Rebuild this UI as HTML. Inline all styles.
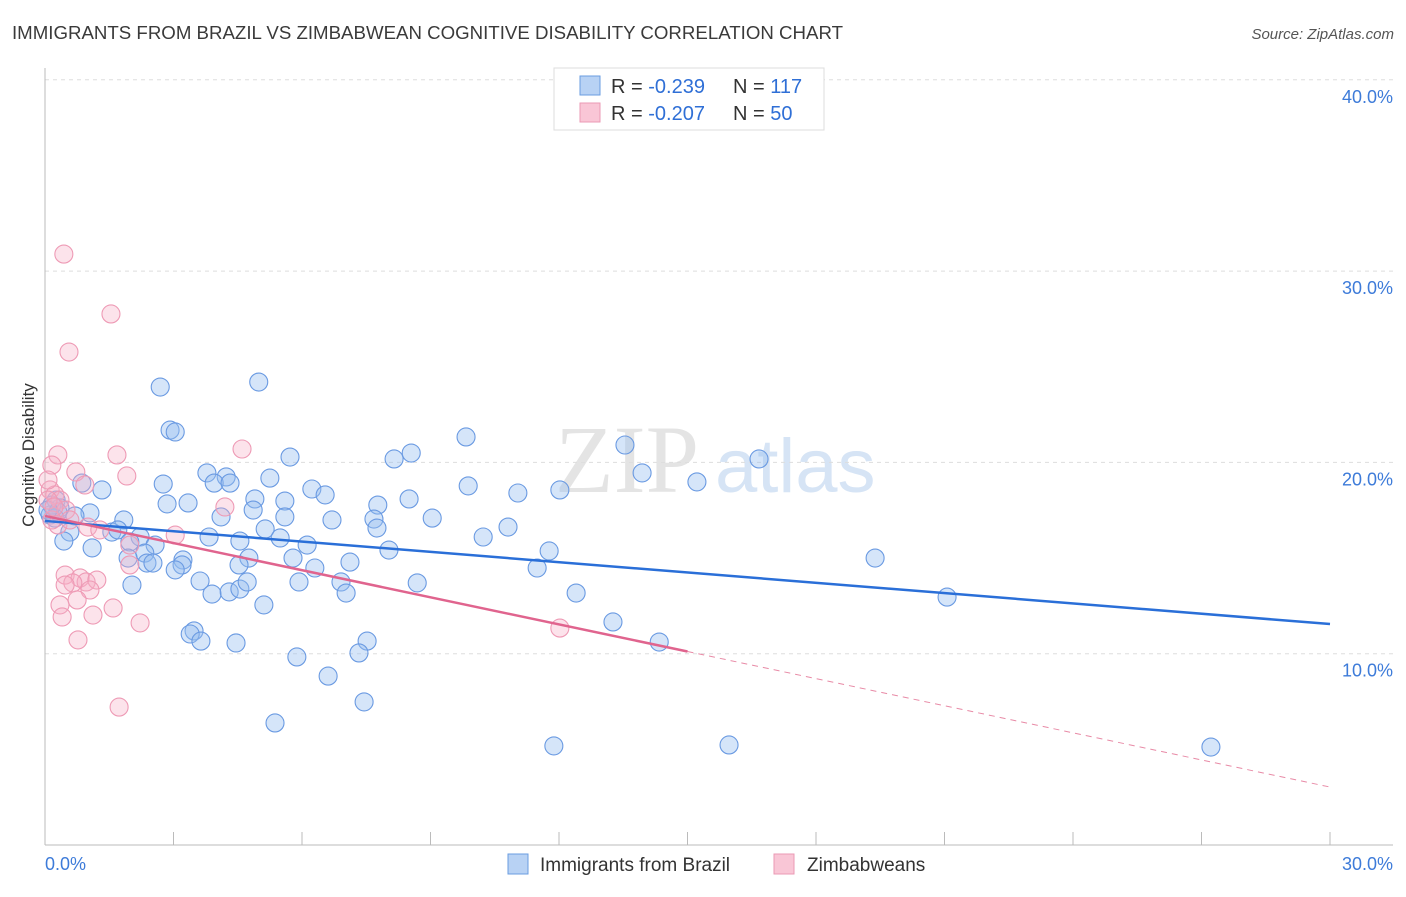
<!DOCTYPE html>
<html><head><meta charset="utf-8"><style>
body{margin:0;background:#fff;font-family:"Liberation Sans",sans-serif}
svg text{font-family:"Liberation Sans",sans-serif}
</style></head><body>
<svg id="chart" width="1406" height="892" xmlns="http://www.w3.org/2000/svg">
<text x="12" y="39" font-size="18" fill="#3a3a3a" textLength="831" lengthAdjust="spacingAndGlyphs">IMMIGRANTS FROM BRAZIL VS ZIMBABWEAN COGNITIVE DISABILITY CORRELATION CHART</text>
<text x="1394" y="39" font-size="15" fill="#555" text-anchor="end" font-style="italic">Source: ZipAtlas.com</text>
<g>
<text x="555" y="492" font-size="96" fill="#e4e4e4" font-family="Liberation Serif" style="font-family:'Liberation Serif',serif">ZIP</text>
<text x="715" y="492" font-size="76" fill="#d6e4f5">atlas</text>
</g>
<g id="grid"></g>
<g id="axes"></g>
<g id="pts"></g>
<g id="trends"></g>
<text transform="translate(34,455) rotate(-90)" font-size="17" fill="#333" text-anchor="middle">Cognitive Disability</text>
<g>
<rect x="554" y="68" width="270" height="62" fill="#fff" stroke="#ddd"/>
<rect x="580" y="76" width="20" height="19" fill="#b8d2f4" stroke="#6a9ce0"/>
<rect x="580" y="103" width="20" height="19" fill="#f9c6d6" stroke="#eb9ab4"/>
<text x="611" y="93" font-size="20" fill="#333">R = <tspan fill="#2f6fd6">-0.239</tspan></text>
<text x="733" y="93" font-size="20" fill="#333">N = <tspan fill="#2f6fd6">117</tspan></text>
<text x="611" y="120" font-size="20" fill="#333">R = <tspan fill="#2f6fd6">-0.207</tspan></text>
<text x="733" y="120" font-size="20" fill="#333">N = <tspan fill="#2f6fd6"> 50</tspan></text>
</g>
<g>
<rect x="508" y="854" width="20" height="20" fill="#b8d2f4" stroke="#6a9ce0"/>
<text x="540" y="871" font-size="19" fill="#333">Immigrants from Brazil</text>
<rect x="774" y="854" width="20" height="20" fill="#f9c6d6" stroke="#eb9ab4"/>
<text x="807" y="871" font-size="19" fill="#333">Zimbabweans</text>
</g>
</svg>
<script>
const yTicks=[10,20,30,40];
const yTickLabels=["10.0%","20.0%","30.0%","40.0%"];
const xTickCount=10;
const xLabels=["0.0%","30.0%"];
const brazilX=[2.69,4.99,2.92,3.04,8.55,9.83,13.54,16.67,8.15,5.72,3.78,4.23,5.25,3.95,4.32,2.76,1.33,0.86,6.23,6.54,4.90,5.60,7.77,8.50,9.88,11.04,12.02,13.94,15.22,2.85,3.34,4.86,5.60,4.11,6.70,7.68,7.75,9.04,10.81,10.23,5.14,5.49,6.12,3.83,4.55,1.84,1.05,0.70,0.58,0.44,1.10,1.56,1.70,2.22,1.98,2.57,2.33,1.94,2.38,2.52,3.22,3.20,3.04,4.76,4.53,5.79,6.30,7.12,8.03,11.77,11.49,19.38,21.06,3.62,3.90,4.30,4.55,4.72,5.93,6.91,7.03,8.69,12.40,5.11,13.26,2.03,3.48,3.39,3.64,4.46,7.52,7.33,5.88,14.34,6.61,7.45,5.37,11.88,15.97,27.22,0.26,0.35,0.12,0.23,0.16,0.30,0.07];
const brazilY=[23.94,24.20,21.69,21.59,20.49,21.33,20.91,20.18,20.18,20.28,19.45,19.24,19.18,18.92,18.92,18.87,18.56,18.92,18.61,18.30,18.09,17.98,17.77,18.09,18.77,18.40,18.56,19.45,18.98,17.83,17.88,17.51,17.15,17.15,16.99,17.04,16.57,17.09,16.62,16.10,16.52,16.05,15.68,16.10,15.89,16.99,17.36,17.20,16.36,15.89,15.53,16.36,16.47,16.10,15.84,15.68,15.26,15.00,14.74,14.74,14.90,14.64,14.38,15.00,14.64,15.00,14.48,14.79,15.42,15.37,14.48,15.00,12.96,13.80,13.12,13.23,13.38,13.75,13.75,13.75,13.17,13.70,13.17,12.55,11.66,13.59,11.19,11.03,10.66,10.56,10.66,10.04,9.83,10.61,8.83,7.48,6.38,5.18,5.23,5.12,18.03,17.62,17.25,17.09,17.77,17.41,17.51];
const zimX=[0.44,1.54,0.56,0.30,4.60,1.68,1.91,0.16,0.72,0.93,0.12,0.23,0.35,0.49,1.00,1.28,0.30,3.04,4.20,0.16,0.07,1.98,0.47,0.82,0.96,1.21,0.65,0.47,1.05,0.35,0.75,1.59,0.40,1.12,2.22,12.02,0.77,1.73,0.07,0.21,0.58,1.98];
const zimY=[30.89,27.76,25.77,20.39,20.70,20.39,19.29,19.86,19.50,18.82,18.56,18.30,18.03,17.51,16.62,16.47,16.73,16.20,17.67,16.99,19.08,14.64,14.11,13.96,13.75,13.85,13.70,13.59,13.33,12.55,12.81,12.39,11.92,12.02,11.61,11.34,10.72,7.21,18.03,17.67,16.99,15.68];
const brazilTrend=[16.94,11.55];
const zimTrend=[17.2,3.03];
const zimSolidEnd=15.0;

const NS="http://www.w3.org/2000/svg";
const X0=45,X1=1330,Y0=845,YT=653.7;
function sx(v){return X0+(X1-X0)*v/30;}
function sy(v){return Y0-(Y0-YT)*v/10;}
function mk(parent,tag,at){const e=document.createElementNS(NS,tag);for(const k in at)e.setAttribute(k,at[k]);document.getElementById(parent).appendChild(e);return e;}
yTicks.forEach((t,i)=>{
  const l=mk('grid','line',{x1:45,x2:1393,y1:sy(t),y2:sy(t),stroke:'#ddd','stroke-dasharray':'4,4'});
  
  
  const tx=mk('grid','text',{x:1393,y:sy(t)+23,'font-size':18,fill:'#3d7bd9','text-anchor':'end'});
  tx.textContent=yTickLabels[i];
  
  
});
let a=mk('axes','line',{x1:45,x2:45,y1:68,y2:845,stroke:'#bbb'});


a=mk('axes','line',{x1:45,x2:1393,y1:845,y2:845,stroke:'#bbb'});


for(let i=1;i<=xTickCount;i++){const x=sx(i*3);const t=mk('axes','line',{x1:x,x2:x,y1:832,y2:845,stroke:'#bbb'});
  
  }
let xl=mk('axes','text',{x:45,y:870,'font-size':18,fill:'#3d7bd9'});xl.textContent=xLabels[0];


xl=mk('axes','text',{x:1393,y:870,'font-size':18,fill:'#3d7bd9','text-anchor':'end'});xl.textContent=xLabels[1];


brazilX.forEach((v,i)=>{const c=mk('pts','circle',{cx:sx(v),cy:sy(brazilY[i]),r:9,fill:'rgba(150,190,240,0.4)',stroke:'#6a9ae2','stroke-width':1.1});
  
  });
zimX.forEach((v,i)=>{const c=mk('pts','circle',{cx:sx(v),cy:sy(zimY[i]),r:9,fill:'rgba(246,175,198,0.35)',stroke:'#ee9ab5','stroke-width':1.1});
  
  });
let tl=mk('trends','line',{x1:sx(0),y1:sy(brazilTrend[0]),x2:sx(30),y2:sy(brazilTrend[1]),stroke:'#2a6fd8','stroke-width':2.5});


const zAt=v=>zimTrend[0]+(zimTrend[1]-zimTrend[0])*v/30;
tl=mk('trends','line',{x1:sx(0),y1:sy(zimTrend[0]),x2:sx(zimSolidEnd),y2:sy(zAt(zimSolidEnd)),stroke:'#e0648e','stroke-width':2.5});


tl=mk('trends','line',{x1:sx(zimSolidEnd),y1:sy(zAt(zimSolidEnd)),x2:sx(30),y2:sy(zimTrend[1]),stroke:'#e88aa6','stroke-width':1,'stroke-dasharray':'6,5'});


</script>
</body></html>
